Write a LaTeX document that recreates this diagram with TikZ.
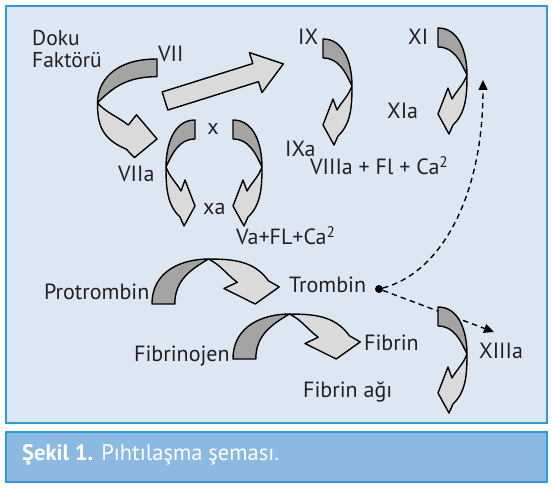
\documentclass[tikz,border=0pt]{standalone}
\usepackage{fontspec}
\setmainfont{PT Sans}
\usetikzlibrary{arrows.meta}
\definecolor{panelbg}{RGB}{221,231,244}
\definecolor{capbg}{RGB}{140,185,226}
\definecolor{frame}{RGB}{45,155,215}
\definecolor{ribdark}{RGB}{164,164,164}
\definecolor{riblight}{RGB}{218,218,218}
\definecolor{ink}{RGB}{35,31,32}
\newcommand\ribbonshape[1]{%
  \begin{scope}[#1]
    \path[rdark] (0,0) .. controls (21.6,0) and (29,-25.4) .. (29,-47)
      .. controls (22.4,-32.8) and (15.7,-19) .. (0,-19) -- cycle;
    \path[rlight] (29,-47) .. controls (29,-67.3) and (28,-85) .. (15,-97)
      -- (11,-106) -- (0,-86) -- (10,-60) -- (14,-71)
      .. controls (19.5,-61.5) and (25.2,-57.3) .. (29,-47) -- cycle;
  \end{scope}}
\begin{document}
\begin{tikzpicture}[x=1pt,y=1pt,
  lbl/.style={font=\fontsize{22}{26}\selectfont, text=ink, inner sep=0pt},
  rdark/.style={fill=ribdark, draw=black, line width=1.4pt, line join=round},
  rlight/.style={fill=riblight, draw=black, line width=1.4pt, line join=round},
  dashline/.style={draw=black, line width=1.4pt, dash pattern=on 5.5pt off 4pt},
  tiphead/.style={-{Triangle[width=9pt,length=10pt]}}]
\useasboundingbox (0,0) rectangle (552,488);
\fill[white] (0,0) rectangle (552,488);
\draw[fill=panelbg, draw=frame, line width=2pt] (6,65) rectangle (547,482);
\draw[fill=capbg, draw=frame, line width=2pt] (6,6) rectangle (547,56);
% thrombin dot and dashed arrows
\node[circle, fill=black, inner sep=0pt, minimum size=8pt] (dot) at (379,199) {};
\coordinate (tipXI) at (483,408);
\coordinate (tipXIII) at (494,156);
\draw[dashline, tiphead] (dot) .. controls (440,215) and (483,290) .. (tipXI);
\draw[dashline, tiphead] (dot) -- (tipXIII);
% ribbon arrows
\ribbonshape{shift={(323,449)}}
\ribbonshape{shift={(438,460)}}
\ribbonshape{shift={(438,181)}}
\ribbonshape{shift={(233,368)}}
\ribbonshape{shift={(195,368)},xscale=-1}
\ribbonshape{shift={(157,429)},xscale=-2.05,yscale=0.93}
\ribbonshape{shift={(152,184)},xscale=1.2,yscale=1.55,rotate=90}
\ribbonshape{shift={(233,129)},xscale=1.2,yscale=1.55,rotate=90}
% straight arrow
\begin{scope}[shift={(165,387)}, rotate=17.4]
  \path[rlight] (0,-9.5) -- (95,-9.5) -- (95,-21) -- (124,0) -- (95,21) -- (95,9.5) -- (0,9.5) -- cycle;
\end{scope}
% labels
\node[lbl,anchor=base west,font=\fontsize{21.5}{24}\selectfont] (doku) at (32,442) {Doku};
\node[lbl,anchor=base west,font=\fontsize{21.5}{24}\selectfont] (faktor) at (32,420) {Faktörü};
\node[lbl,anchor=base west] (vii) at (158,426) {VII};
\node[lbl,anchor=base west] (ix) at (298,443) {IX};
\node[lbl,anchor=base west] (xi) at (408,443) {XI};
\node[lbl,anchor=base] (x) at (213,353) {x};
\node[lbl,anchor=base west] (viia) at (118,306) {VIIa};
\node[lbl,anchor=base west] (xa) at (203,273) {xa};
\node[lbl,anchor=base west] (ixa) at (285,331) {IXa};
\node[lbl,anchor=base west] (viiia) at (310,313) {VIIIa + Fl + Ca\textsuperscript{2}};
\node[lbl,anchor=base west] (xia) at (387,369) {XIa};
\node[lbl,anchor=base west] (va) at (236,243) {Va+FL+Ca\textsuperscript{2}};
\node[lbl,anchor=base west] (protr) at (44,188) {Protrombin};
\node[lbl,anchor=base west] (trom) at (289,195) {Trombin};
\node[lbl,anchor=base west] (fibj) at (134,126) {Fibrinojen};
\node[lbl,anchor=base west] (fib) at (364,138) {Fibrin};
\node[lbl,anchor=base west] (fiba) at (303,91) {Fibrin ağı};
\node[lbl,anchor=base west] (xiii) at (479,130) {XIIIa};
\node[lbl,anchor=base west,text=white,font=\fontsize{22.5}{26}\selectfont] (cap) at (22,28) {\textbf{Şekil 1.} Pıhtılaşma şeması.};
\end{tikzpicture}
\end{document}
